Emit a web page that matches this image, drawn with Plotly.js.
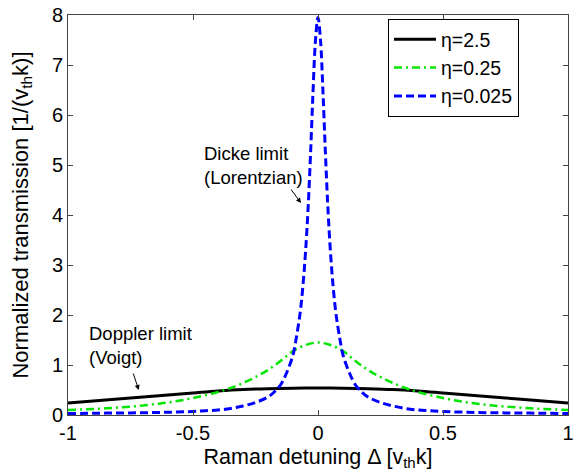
<!DOCTYPE html>
<html>
<head>
<meta charset="utf-8">
<script src="https://cdn.plot.ly/plotly-3.0.1.min.js"></script>
<style>html,body{margin:0;padding:0;background:#fff;}#plot{width:574px;height:472px;}</style>
</head>
<body>
<div id="plot"></div>
<script>
// eta = 2.5 (black, solid)
const xBlack = [-1,-0.9,-0.8,-0.7,-0.6,-0.5,-0.4,-0.3,-0.2,-0.1,0,0.1,0.2,0.3,0.4,0.5,0.6,0.7,0.8,0.9,1];
const yBlack = [0.24,0.28,0.32,0.36,0.40,0.44,0.48,0.51,0.527,0.537,0.54,0.537,0.527,0.51,0.48,0.44,0.40,0.36,0.32,0.28,0.24];

// eta = 0.25 (green, dash-dot)
const xGreen = [-1,-0.9,-0.8,-0.7,-0.6,-0.5,-0.4,-0.35,-0.3,-0.25,-0.2,-0.15,-0.1,-0.05,0,0.05,0.1,0.15,0.2,0.25,0.3,0.35,0.4,0.5,0.6,0.7,0.8,0.9,1];
const yGreen = [0.10,0.12,0.15,0.19,0.25,0.34,0.46,0.54,0.64,0.76,0.90,1.08,1.28,1.40,1.45,1.40,1.28,1.08,0.90,0.76,0.64,0.54,0.46,0.34,0.25,0.19,0.15,0.12,0.10];

// eta = 0.025 (blue, dashed)
const xBlue = [-1,-0.9,-0.8,-0.7,-0.6,-0.5,-0.45,-0.4,-0.35,-0.3,-0.25,-0.2,-0.175,-0.15,-0.125,-0.1,-0.09,-0.08,-0.07,-0.06,-0.05,-0.04,-0.03,-0.02,-0.01,0,
               0.01,0.02,0.03,0.04,0.05,0.06,0.07,0.08,0.09,0.1,0.125,0.15,0.175,0.2,0.25,0.3,0.35,0.4,0.45,0.5,0.6,0.7,0.8,0.9,1];
const yBlue = [0.03,0.035,0.04,0.045,0.055,0.07,0.085,0.10,0.13,0.18,0.25,0.36,0.46,0.60,0.85,1.20,1.45,1.75,2.10,2.60,3.25,4.10,5.20,6.45,7.50,7.95,
               7.50,6.45,5.20,4.10,3.25,2.60,2.10,1.75,1.45,1.20,0.85,0.60,0.46,0.36,0.25,0.18,0.13,0.10,0.085,0.07,0.055,0.045,0.04,0.035,0.03];

const seriesNames = ['\u03b7=2.5', '\u03b7=0.25', '\u03b7=0.025'];
const xTickVals = [-1,-0.5,0,0.5,1];
const xTickText = ['-1','-0.5','0','0.5','1'];
const yTickVals = [0,1,2,3,4,5,6,7,8];
const yTickText = ['0','1','2','3','4','5','6','7','8'];

const FONT = 'Liberation Sans, Arial, sans-serif';

const traces = [
  {x: xBlack, y: yBlack, name: seriesNames[0], mode: 'lines',
   line: {color: '#000000', width: 3, shape: 'spline'}},
  {x: xGreen, y: yGreen, name: seriesNames[1], mode: 'lines',
   line: {color: '#00e600', width: 2.5, dash: '8px,4px,2px,4px', shape: 'spline'}},
  {x: xBlue, y: yBlue, name: seriesNames[2], mode: 'lines',
   line: {color: '#0000ff', width: 3, dash: '8px,4px', shape: 'spline'}}
];

const axisCommon = {
  showline: true, linecolor: '#444', linewidth: 1, mirror: 'ticks',
  ticks: 'inside', ticklen: 5, tickcolor: '#444', showgrid: false, zeroline: false,
  ticklabeloverflow: 'allow',
  tickfont: {family: FONT, size: 20, color: '#000'}
};

const layout = {
  width: 574, height: 472,
  margin: {l: 68, r: 6, t: 15, b: 57},
  paper_bgcolor: '#fff', plot_bgcolor: '#fff',
  font: {family: FONT, color: '#000'},
  showlegend: true,
  legend: {x: 0.64, y: 0.99, xanchor: 'left', yanchor: 'top',
           bordercolor: '#000', borderwidth: 1, bgcolor: '#fff', itemwidth: 42,
           font: {family: FONT, size: 19.5, color: '#000'}},
  xaxis: Object.assign({}, axisCommon, {
    range: [-1, 1], tickvals: xTickVals, ticktext: xTickText,
    title: {text: 'Raman detuning \u0394 [v<sub>th</sub>k]', font: {family: FONT, size: 21.5, color: '#000'}, standoff: 5}
  }),
  yaxis: Object.assign({}, axisCommon, {
    range: [0, 8], tickvals: yTickVals, ticktext: yTickText,
    title: {text: 'Normalized transmission [1/(v<sub>th</sub>k)]', font: {family: FONT, size: 22, color: '#000'}, standoff: 17}
  }),
  annotations: [
    {x: -0.466, y: 5.24, xref: 'x', yref: 'y', text: 'Dicke limit', showarrow: false, xanchor: 'left', yanchor: 'middle', font: {family: FONT, size: 18.5, color: '#000'}},
    {x: -0.466, y: 4.76, xref: 'x', yref: 'y', text: '(Lorentzian)', showarrow: false, xanchor: 'left', yanchor: 'middle', font: {family: FONT, size: 18.5, color: '#000'}},
    {x: -0.068, y: 4.24, xref: 'x', yref: 'y', text: '', showarrow: true, ax: -11, ay: -15, arrowhead: 2, arrowsize: 1, arrowwidth: 1, arrowcolor: '#000'},
    {x: -0.924, y: 1.64, xref: 'x', yref: 'y', text: 'Doppler limit', showarrow: false, xanchor: 'left', yanchor: 'middle', font: {family: FONT, size: 18.5, color: '#000'}},
    {x: -0.924, y: 1.16, xref: 'x', yref: 'y', text: '(Voigt)', showarrow: false, xanchor: 'left', yanchor: 'middle', font: {family: FONT, size: 18.5, color: '#000'}},
    {x: -0.717, y: 0.5, xref: 'x', yref: 'y', text: '', showarrow: true, ax: -6, ay: -18, arrowhead: 2, arrowsize: 1, arrowwidth: 1, arrowcolor: '#000'}
  ]
};

Plotly.newPlot('plot', traces, layout, {displayModeBar: false, staticPlot: true});
</script>
</body>
</html>
